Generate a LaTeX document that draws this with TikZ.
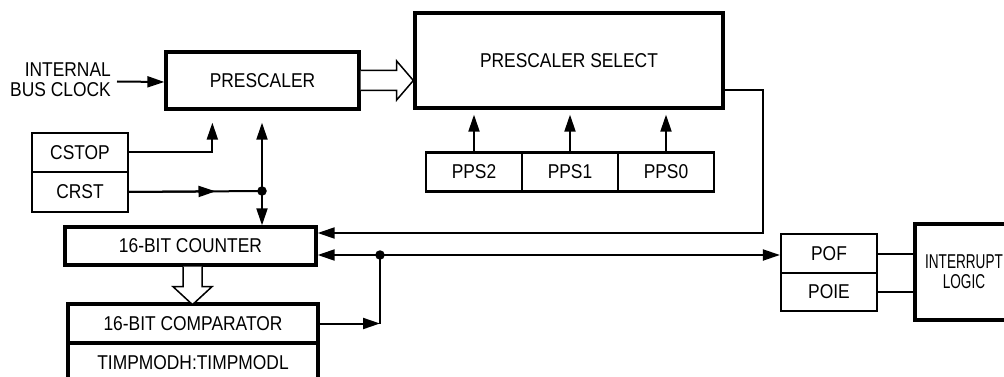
\documentclass[tikz,border=0pt]{standalone}
\usepackage{fontspec}
\setmainfont{Liberation Sans}[FakeStretch=0.87]
\newfontfamily\condfont{Liberation Sans}[FakeStretch=0.68]
\usetikzlibrary{calc,arrows.meta}
\begin{document}
\begin{tikzpicture}[x=1pt,y=-1pt,
  font=\fontsize{20}{20}\selectfont,
  smallbox/.style={draw, line width=2.2pt, minimum width=96pt, minimum height=39pt, inner sep=0pt},
  bigbox/.style={draw, line width=3.3pt, inner sep=0pt},
  conn/.style={line width=2pt},
  arr/.style={conn, -{Triangle[length=17pt,width=11pt]}},
  hollow/.style={line width=1.5pt, fill=white, line join=miter},
  junction/.style={circle, fill, inner sep=0pt, minimum size=9.5pt}]
\useasboundingbox (0,0) rectangle (1004,377);
\clip (0,0) rectangle (1004,377);

% main blocks
\node[bigbox, minimum width=193pt, minimum height=57pt] (pre) at (262.5,80.5) {PRESCALER};
\node[bigbox, minimum width=308pt, minimum height=95pt] (sel) at (569,60.5) {PRESCALER SELECT};
\node[smallbox] (pps2) at (474,172) {PPS2};
\node[smallbox] (pps1) at (570,172) {PPS1};
\node[smallbox] (pps0) at (666,172) {PPS0};
\node[smallbox, minimum height=39pt] (cstop) at (80,152.5) {CSTOP};
\node[smallbox, minimum height=40pt] (crst) at (80,192) {CRST};
\node[bigbox, minimum width=251pt, minimum height=38pt] (cnt) at (190.5,246) {16-BIT COUNTER};
\node[bigbox, minimum width=250pt, minimum height=39pt] (cmp) at (193,323.5) {16-BIT COMPARATOR};
\node[bigbox, minimum width=250pt, minimum height=39pt] (mod) at (193,362.5) {TIMPMODH:TIMPMODL};
\node[smallbox] (pof) at (829,253.5) {POF};
\node[smallbox, minimum height=38pt] (poie) at (829,292) {POIE};
\node[bigbox, line width=3.8pt, minimum width=104pt, minimum height=96pt] (intr) at (967,272) {};
\node[align=center, inner sep=0pt, font=\condfont\fontsize{20}{20}\selectfont] (intrtext) at (964,272) {INTERRUPT\\LOGIC};
\node[align=right, anchor=east, inner sep=0pt] (ibc) at (111,80) {INTERNAL\\BUS CLOCK};

% junctions
\node[junction] (j1) at (262,191) {};
\node[junction] (j2) at (380,255) {};

% connectors
\draw[arr] ($(ibc.east)+(6,1.5)$) -- ($(pre.west)+(0,1.5)$);
\draw[arr, shorten >=12pt] (cstop.east) -| ($(pre.south west)+(48,0)$);
\draw[arr, shorten >=12pt] (j1.center) -- (j1 |- pre.south);
\draw[arr] (j1.center) -- (j1 |- cnt.north);
\draw[conn] (crst.east) -- (j1.center);
\draw[arr] (crst.east) -- ($(crst.east)!0.65!(j1.center)$);
\draw[arr, shorten >=5pt] (pps2.north) -- (pps2 |- sel.south);
\draw[arr, shorten >=5pt] (pps1.north) -- (pps1 |- sel.south);
\draw[arr, shorten >=5pt] (pps0.north) -- (pps0 |- sel.south);
\draw[arr] ($(sel.east)+(0,29.5)$) -- ++(38,0) |- ($(cnt.east)+(0,-13)$);
\draw[arr] (j2.center) -- ($(cnt.east)+(0,9)$);
\draw[arr] (j2.center) -- ($(pof.west)+(0,1.5)$);
\draw[arr] (cmp.east) -- (cmp.east -| j2);
\draw[conn] (cmp.east -| j2) -- (j2.center);
\draw[conn] (pof.east) -- (pof.east -| intr.west);
\draw[conn] (poie.east) -- (poie.east -| intr.west);

% hollow bus arrows
\draw[hollow] ($(pre.east)+(0,-10)$) -- ++(36,0) -- ++(0,-9.5) -- (sel.west |- pre.east) -- ($(pre.east)+(36,19.5)$) -- ++(0,-9.5) -- ($(pre.east)+(0,10)$);
\draw[hollow] ($(cnt.south)+(-7.5,0)$) -- ++(0,20) -- ++(-10,0) -- ($(cnt.south)+(2,38)$) -- ($(cnt.south)+(21.5,20)$) -- ++(-10,0) -- ($(cnt.south)+(11.5,0)$);
\end{tikzpicture}
\end{document}
